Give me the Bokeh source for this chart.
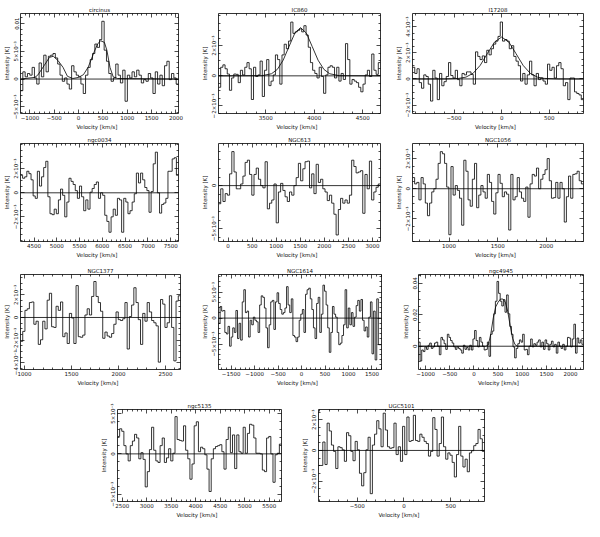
import numpy as np
from bokeh.plotting import figure
from bokeh.layouts import column, row
from bokeh.models import FixedTicker, LinearAxis, Span, Spacer
from bokeh.embed import file_html
from bokeh.resources import INLINE

FONT = "DejaVu Sans"

# ---------------- data (velocity in km/s, intensity in mK) ----------------
circinus_vrange = [-1194, 2052]
circinus_yrange = [-6.2, 11.8]
circinus_mK = [-2.1, 1.3, 0.4, 1.0, 0.7, 2.1, 0.2, -0.9, 2.9, 0.4, 4.3, 1.3, 4.1, 4.3, 4.6, 3.8, 2.7, 0.7,
               -0.4, 0.2, -0.9, -1.8, 2.4, 1.3, 0.7, 0.4, -0.9, -2.6, 0.7, 2.1, 3.5, 4.6, 6.3, 5.7, 7.1, 10.4,
               5.2, 3.2, 1.0, -0.4, 0.2, 2.7, 0.7, -0.7, 1.6, -4.0, 0.7, 0.2, 1.3, 0.4, 1.6, 0.7, -0.7, -0.1,
               -0.4, 1.0, 0.2, -2.6, 1.3, -0.9, 0.7, -1.2, 2.4, 3.2, -0.1, 1.0, 0.2, -0.9]
circinus_fit_v = [-1194, -900, -840, -710, -600, -520, -420, -320, -230, -120, 0, 100, 200, 320, 390, 450,
                  530, 580, 645, 710, 800, 2052]
circinus_fit_mK = [0.0, 0.3, 0.7, 2.4, 3.9, 4.1, 3.3, 2.1, 0.5, 0.1, 0.3, 0.8, 2.2, 4.9, 6.3, 6.9, 6.6, 5.2,
                   2.1, 0.4, 0.1, 0.0]
circinus_xticks = [-1000, -500, 0, 500, 1000, 1500, 2000]
circinus_yticks = [-5, 0, 5, 10]
circinus_ylabels = ["\u22125\u00d710\u207b\u00b3", "0", "5\u00d710\u207b\u00b3", "0.01"]

ic860_vrange = [3013, 4684]
ic860_yrange = [-2.5, 4.14]
ic860_mK = [-0.76, 0.57, 0.73, 0.47, 0.12, -0.96, -0.14, 0.12, 0.10, -0.45, 0.37, 0.06, 0.57, 0.88, 0.47,
            -1.57, 0.57, -0.04, 0.06, 0.98, -1.37, 0.37, 1.08, -0.65, -0.35, 0.06, 1.39, 1.08, -0.55, 1.39,
            2.10, 1.80, 2.31, 3.57, 2.82, 2.92, 3.02, 3.12, 2.92, 3.33, 2.71, 1.90, 0.88, 0.37, 0.16, -0.14,
            0.57, -0.04, -1.16, 0.06, 0.57, 0.67, 0.57, -0.14, 0.57, -0.35, 0.16, -0.24, 2.14, 1.08, -0.55,
            -0.24, -0.35, -0.45, -0.76, -1.06, -0.55, 0.06, 0.37, -0.04, 1.45, 0.37, 0.10, 0.88]
ic860_fit_v = [3013, 3460, 3560, 3620, 3680, 3740, 3800, 3860, 3920, 3980, 4040, 4100, 4160, 4260, 4684]
ic860_fit_mK = [0.0, 0.01, 0.14, 0.43, 1.04, 1.94, 2.83, 3.2, 2.83, 1.94, 1.04, 0.43, 0.14, 0.01, 0.0]
ic860_xticks = [3500, 4000, 4500]
ic860_yticks = [-2, 0, 2]
ic860_ylabels = ["\u22122\u00d710\u207b\u00b3", "0", "2\u00d710\u207b\u00b3"]

i17208_vrange = [-936, 859]
i17208_yrange = [-2.64, 5.0]
i17208_mK = [0.89, 0.42, 0.78, -0.28, -0.71, 0.31, 0.19, -0.40, -1.69, 0.66, 0.07, -1.58, 0.42, -0.52, -0.21,
             0.19, 1.25, 0.26, 0.07, 0.66, -0.05, -0.52, 0.42, 0.31, 0.54, 0.54, 0.35, -0.40, 2.07, 1.72, 1.48,
             1.76, 1.25, 2.19, 1.84, 2.31, 2.66, 2.89, 3.25, 4.35, 2.89, 3.01, 2.89, 2.31, 2.54, 1.72, 1.36,
             1.01, -0.16, 0.42, -0.40, 0.31, 1.36, 0.31, -0.52, 0.42, -0.05, 0.07, -0.16, -0.40, 1.13, 0.66,
             0.89, 0.07, 1.01, 1.25, 0.78, -0.52, -0.28, -1.58, 0.07, 0.07, -0.99, -1.11, -1.22, -1.58]
i17208_fit_v = [-936, -600, -450, -375, -300, -225, -150, -75, 0, 75, 150, 225, 300, 375, 450, 600, 859]
i17208_fit_mK = [0.0, 0.0, 0.04, 0.14, 0.43, 1.04, 1.94, 2.82, 3.2, 2.82, 1.94, 1.04, 0.43, 0.14, 0.04, 0.0, 0.0]
i17208_xticks = [-500, 0, 500]
i17208_yticks = [-2, 0, 2, 4]
i17208_ylabels = ["\u22122\u00d710\u207b\u00b3", "0", "2\u00d710\u207b\u00b3", "4\u00d710\u207b\u00b3"]

ngc0034_vrange = [4203, 7672]
ngc0034_yrange = [-4.05, 4.1]
ngc0034_mK = [1.46, 1.21, 1.33, 1.79, 1.59, 1.08, -0.26, -0.46, 1.79, 0.56, 1.33, 2.10, 2.62, -0.33, -1.74,
              -1.82, -1.36, -1.74, -0.59, 0.31, -0.21, -2.00, -0.77, 1.21, 0.95, 0.69, 0.18, -0.46, 0.56,
              -0.33, -1.49, -0.59, -1.36, 0.05, 0.36, 0.69, 0.90, -0.46, 0.00, -0.21, -1.87, -2.38, -3.28,
              -2.00, -1.36, -1.87, -0.46, -0.59, -3.28, -0.46, -0.77, -1.74, -1.49, -0.77, -0.08, 1.64, 0.82,
              1.64, 1.08, 0.44, 0.18, -1.62, 0.10, 2.41, 3.38, 0.00, -1.69, -0.97, -0.85, -0.46, 1.79, 1.79,
              2.82, 2.92, 1.46]
ngc0034_xticks = [4500, 5000, 5500, 6000, 6500, 7000, 7500]
ngc0034_yticks = [-2, 0, 2]
ngc0034_ylabels = ["\u22122\u00d710\u207b\u00b3", "0", "2\u00d710\u207b\u00b3"]

ngc613_vrange = [-199, 3166]
ngc613_yrange = [-6.5, 4.9]
ngc613_mK = [-2.11, -0.37, -1.85, -0.93, -1.11, 1.37, 3.96, 1.59, -0.37, -0.37, 0.19, 1.11, 2.70, 2.96, 1.30,
             -1.11, 1.30, 2.04, 0.74, 0.00, -0.26, 2.78, -2.70, -2.04, -1.67, 0.19, -4.33, -0.74, 0.26, -0.56,
             -1.30, -1.85, -0.74, -1.11, 0.00, 0.93, 2.59, 0.56, 1.96, 2.78, 2.85, -0.26, 1.37, -0.93, 2.48,
             0.37, 0.74, -0.37, -0.74, -1.74, -1.11, -2.04, -3.33, -5.74, -2.78, -1.48, -2.04, -1.67, -2.04,
             -1.11, 2.96, 2.22, 1.48, 1.59, 1.74, -3.22, 1.30, -0.37, 2.85, -1.67, -0.74, -0.19, 0.19]
ngc613_xticks = [0, 500, 1000, 1500, 2000, 2500, 3000]
ngc613_yticks = [-5, 0]
ngc613_ylabels = ["\u22125\u00d710\u207b\u00b3", "0"]

ngc1056_vrange = [623, 2384]
ngc1056_yrange = [-3.5, 3.0]
ngc1056_mK = [0.74, 0.32, 0.42, -0.74, 0.74, 0.32, -0.95, -1.79, -0.95, -0.21, 0.00, 0.63, 1.68, 2.46, 2.32,
              1.68, 0.11, -3.05, 1.47, -0.42, 0.21, -0.11, -0.63, -2.42, 1.89, 1.16, -0.74, -1.16, 0.63, 1.68,
              -1.26, -0.42, 0.21, -0.21, -0.63, 0.95, 0.42, -0.84, -1.68, -0.27, 0.95, 0.36, -0.53, -0.21,
              -0.36, -2.74, 0.95, -0.74, -0.53, 0.74, -0.21, -0.63, -0.84, 0.11, -1.89, 0.32, 0.95, 0.84, 1.37,
              0.00, 0.63, 0.95, 1.26, 2.00, 0.53, -0.63, -0.59, 0.42, -0.63, 0.42, 0.00, -2.21, -0.53, 0.84,
              -0.63, 0.95, 0.99, 1.16, 0.53, 0.32]
ngc1056_xticks = [1000, 1500, 2000]
ngc1056_yticks = [-2, 0, 2]
ngc1056_ylabels = ["\u22122\u00d710\u207b\u00b3", "0", "2\u00d710\u207b\u00b3"]

ngc1377_vrange = [957, 2660]
ngc1377_yrange = [-4.6, 3.8]
ngc1377_mK = [-2.11, -1.23, 0.63, 0.77, 1.32, 1.37, -0.60, -0.33, -2.38, -1.97, -0.33, -1.01, 1.53, 2.14,
              -0.82, -0.88, 0.99, 0.63, 1.37, -1.70, -1.37, -2.30, 0.36, -0.05, -2.30, 2.82, -1.70, -1.75,
              -1.56, 0.22, 0.77, 0.22, 1.86, 3.18, 1.86, 1.32, 0.55, -1.84, -1.29, -1.64, -1.75, -1.42, -0.60,
              0.49, -0.19, -0.27, -0.11, 1.32, -2.79, 0.08, 1.10, 2.63, 1.32, -0.19, -2.38, 0.36, -0.33, 1.32,
              0.49, -0.27, -0.47, -0.74, -3.95, 1.59, 1.18, -0.88, -0.47, 1.92, -0.88, -3.84, 1.45, 1.92]
ngc1377_xticks = [1000, 1500, 2000, 2500]
ngc1377_yticks = [-4, -2, 0, 2]
ngc1377_ylabels = ["\u22124\u00d710\u207b\u00b3", "\u22122\u00d710\u207b\u00b3", "0", "2\u00d710\u207b\u00b3"]

ngc1614_vrange = [-1770, 1703]
ngc1614_yrange = [-9.9, 8.4]
ngc1614_mK = [-1.00, 2.24, 1.35, 1.47, -2.76, -3.06, -1.59, -5.41, -3.65, -1.88, -2.76, 1.47, -3.94, -1.00,
              -4.24, 3.12, 5.47, 1.06, 1.35, -3.65, -0.41, -1.29, 0.18, -0.41, -0.71, -2.76, 2.53, 4.29, 4.00,
              1.94, -1.88, -5.71, -1.29, 3.12, 3.41, -2.18, 3.12, 4.88, 2.82, 1.65, 0.76, 1.06, 1.94, 6.06,
              2.53, 1.06, 3.71, -3.35, -3.65, -4.53, -3.65, -0.41, 0.76, 1.65, -2.76, 4.59, 5.47, 5.76, 3.71,
              1.65, -1.88, -3.94, 2.82, 4.00, -2.76, 0.76, 6.35, 5.18, 2.53, -1.88, -6.59, -2.76, 2.24, 0.76,
              0.18, -2.76, -5.12, -4.82, -3.35, -1.29, 5.47, -1.88, 1.94, -1.29, 1.06, -1.59, 0.18, 2.41, 3.41,
              1.35, 3.59, -0.41, -2.47, -1.71, -3.65, 0.18, 3.12, -6.88, 1.35, -8.06, 3.71, -5.12, -5.12]
ngc1614_xticks = [-1500, -1000, -500, 0, 500, 1000, 1500]
ngc1614_yticks = [-5, 0, 5]
ngc1614_ylabels = ["\u22125\u00d710\u207b\u00b3", "0", "5\u00d710\u207b\u00b3"]

ngc4945_vrange = [-1147, 2267]
ngc4945_yrange = [-14.8, 45.6]
ngc4945_mK = [2.6, -9.4, -2.4, -3.4, -0.4, -2.0, 0.6, 2.0, -1.4, -0.4, 2.0, 2.6, 0.0, -5.4, 5.6, 4.0, 1.6,
              -2.0, 7.6, 5.6, 3.6, 2.0, -0.4, -2.0, -0.4, -1.4, -2.4, -4.4, 0.6, -2.0, -0.8, -2.4, 0.6, -2.4,
              4.6, 10.0, 3.6, -0.4, 5.6, 2.6, 0.0, -2.4, -2.0, 2.6, -6.4, 7.6, 9.6, 20.6, 28.6, 41.2, 33.6,
              28.6, 25.6, 29.6, 21.6, 32.6, 20.6, 12.6, 7.6, -0.4, -7.4, -1.4, 1.6, 4.0, 2.6, 7.6, -2.4, -2.0,
              -5.4, 0.0, 4.6, -0.4, 1.6, 0.6, 2.6, 4.0, -0.4, 2.6, -2.0, 4.0, 1.6, -2.4, 1.2, 3.2, -0.4, 1.2,
              -4.4, 2.6, 0.0, -1.4, 1.2, -2.4, 0.0, 5.6, 5.2, -0.4, 4.6, 14.0, -4.4, 5.2, 2.0, 4.0, 1.2]
ngc4945_fit_v = [-1147, 250, 300, 350, 400, 450, 500, 550, 600, 650, 700, 750, 800, 850, 900, 2267]
ngc4945_fit_mK = [0.0, 0.0, 1.0, 8.0, 18.0, 25.0, 28.0, 30.0, 30.0, 28.0, 22.0, 13.0, 5.0, 1.0, 0.0, 0.0]
ngc4945_xticks = [-1000, -500, 0, 500, 1000, 1500, 2000]
ngc4945_yticks = [0, 20, 40]
ngc4945_ylabels = ["0", "0.02", "0.04"]

ngc5135_vrange = [2402, 5748]
ngc5135_yrange = [-5.9, 5.5]
ngc5135_mK = [2.16, 3.11, 2.80, 1.02, 0.00, -0.87, 1.02, 1.59, 2.42, 1.97, -0.61, 0.15, -0.68, -4.09, -2.20,
              0.53, 3.30, 0.45, -0.87, -1.06, 1.02, 1.97, -1.06, -0.49, 0.64, -0.87, 0.08, 4.62, 1.78, 1.67,
              1.59, 3.48, 0.45, -0.61, -3.14, -1.25, 3.48, 3.98, 0.27, 0.83, 0.64, -0.11, -1.89, -4.66, -0.61,
              0.64, 0.91, 1.02, 1.14, 0.27, -1.89, 1.78, 3.30, 0.15, 2.35, -1.82, 2.35, 0.27, 0.08, 3.30, 0.08,
              2.54, 3.67, 3.56, 1.97, 0.08, 0.08, 0.00, -2.01, -2.20, 1.97, 2.16, 0.00, -3.52, -0.11, 0.08, 1.21]
ngc5135_xticks = [2500, 3000, 3500, 4000, 4500, 5000, 5500]
ngc5135_yticks = [-5, 0, 5]
ngc5135_ylabels = ["\u22125\u00d710\u207b\u00b3", "0", "5\u00d710\u207b\u00b3"]

ugc5101_vrange = [-914, 862]
ugc5101_yrange = [-3.33, 2.67]
ugc5101_mK = [-0.98, -0.98, 0.55, -0.92, 1.78, 1.27, 0.35, -0.06, -1.18, 0.24, 0.18, 0.04, -0.71, 1.16, 0.96,
              -0.06, -0.67, 0.59, 0.04, -1.49, -2.31, -1.45, 0.04, 0.86, -2.82, 0.35, 1.06, 1.94, 1.41, 0.24,
              2.43, 1.33, 0.24, 0.14, 0.18, 1.78, -0.27, 0.24, -0.71, 1.57, -0.27, 2.18, 0.59, 0.65, 2.29, 0.65,
              0.59, 1.06, 0.86, 0.59, 0.45, -0.37, -0.06, 2.14, 1.37, -0.37, 0.45, 2.18, 0.24, -0.57, -0.16,
              -0.31, -0.78, -1.73, -0.27, 1.57, -0.37, -1.08, -0.57, -1.39, -0.16, -0.02, 0.31, 0.45, 1.37,
              0.76, -0.06]
ugc5101_xticks = [-500, 0, 500]
ugc5101_yticks = [-2, 0, 2]
ugc5101_ylabels = ["\u22122\u00d710\u207b\u00b3", "0", "2\u00d710\u207b\u00b3"]

TXT = "5.5px"
XLABEL = "Velocity    [km/s]"


def tick_style(ax):
    ax.major_tick_in = 4
    ax.major_tick_out = 0
    ax.minor_tick_in = 2
    ax.minor_tick_out = 0
    ax.axis_line_color = None
    ax.major_tick_line_color = "black"
    ax.minor_tick_line_color = "black"
    ax.major_tick_line_width = 0.7
    ax.minor_tick_line_width = 0.7


def main_axis(ax, major, minor):
    ax.ticker = FixedTicker(ticks=list(major), minor_ticks=list(minor))
    tick_style(ax)
    ax.major_label_standoff = 1
    ax.major_label_text_font = FONT
    ax.major_label_text_font_size = TXT
    ax.major_label_text_color = "#111111"
    ax.axis_label_text_font = FONT
    ax.axis_label_text_font_size = TXT
    ax.axis_label_text_font_style = "normal"
    ax.axis_label_text_color = "#111111"
    ax.axis_label_standoff = 1


def mirror_axis(ax, ticks, length):
    # mirrored box ticks only (no labels)
    ax.ticker = FixedTicker(ticks=[], minor_ticks=list(ticks))
    tick_style(ax)
    ax.minor_tick_in = length
    ax.major_label_standoff = 0


def panel(title, vrange, yrange, mK, xticks, yticks, ylabels, yminor_step, w, h, bl, br, bt, bb,
          fit_v=None, fit_mK=None):
    p = figure(width=w, height=h, x_range=(vrange[0], vrange[1]), y_range=(yrange[0], yrange[1]),
               output_backend="svg", toolbar_location=None,
               min_border_left=bl, min_border_right=br, min_border_top=bt, min_border_bottom=bb)
    p.title.text = title
    p.title.align = "center"
    p.title.text_font = FONT
    p.title.text_font_size = TXT
    p.title.text_font_style = "normal"
    p.title.text_color = "#111111"
    p.title.standoff = 2
    p.outline_line_color = "black"
    p.outline_line_width = 0.8
    p.xgrid.visible = False
    p.ygrid.visible = False

    xminor = [t for t in np.arange(np.ceil(vrange[0] / 100) * 100, vrange[1], 100) if t not in xticks]
    yminor = [t for t in np.arange(np.ceil(yrange[0] / yminor_step) * yminor_step, yrange[1], yminor_step)
              if t not in yticks]

    xa = p.xaxis[0]
    main_axis(xa, xticks, xminor)
    xa.axis_label = XLABEL
    ya = p.yaxis[0]
    main_axis(ya, yticks, yminor)
    ya.major_label_overrides = {t: s for t, s in zip(yticks, ylabels)}
    ya.major_label_orientation = "vertical"
    ya.axis_label = "Intensity [K]"

    for ticks, length, side in ((xticks, 4, "above"), (xminor, 2, "above"),
                                (yticks, 4, "right"), (yminor, 2, "right")):
        ax = LinearAxis()
        mirror_axis(ax, ticks, length)
        p.add_layout(ax, side)

    p.add_layout(Span(location=0, dimension="width", line_color="black", line_width=0.8))

    edges = np.linspace(vrange[0], vrange[1], len(mK) + 1)
    p.step(edges, list(mK) + [mK[-1]], mode="after", line_color="black", line_width=0.8)
    if fit_v is not None:
        p.line(fit_v, fit_mK, line_color="black", line_width=0.8)
    return p


r1 = row(
    panel("circinus", circinus_vrange, circinus_yrange, circinus_mK, circinus_xticks, circinus_yticks,
          circinus_ylabels, 1, 198, 132, 15, 20, 13, 14, circinus_fit_v, circinus_fit_mK),
    panel("IC860", ic860_vrange, ic860_yrange, ic860_mK, ic860_xticks, ic860_yticks, ic860_ylabels, 0.5,
          194, 132, 18, 12, 13, 14, ic860_fit_v, ic860_fit_mK),
    panel("I17208", i17208_vrange, i17208_yrange, i17208_mK, i17208_xticks, i17208_yticks, i17208_ylabels,
          0.5, 192, 132, 18, 1, 13, 14, i17208_fit_v, i17208_fit_mK),
    spacing=0)

r2 = row(
    panel("ngc0034", ngc0034_vrange, ngc0034_yrange, ngc0034_mK, ngc0034_xticks, ngc0034_yticks,
          ngc0034_ylabels, 0.5, 198, 128, 15, 20, 11, 14),
    panel("NGC613", ngc613_vrange, ngc613_yrange, ngc613_mK, ngc613_xticks, ngc613_yticks, ngc613_ylabels,
          1, 194, 128, 18, 12, 11, 14),
    panel("NGC1056", ngc1056_vrange, ngc1056_yrange, ngc1056_mK, ngc1056_xticks, ngc1056_yticks,
          ngc1056_ylabels, 0.5, 192, 128, 18, 1, 11, 14),
    spacing=0)

r3 = row(
    panel("NGC1377", ngc1377_vrange, ngc1377_yrange, ngc1377_mK, ngc1377_xticks, ngc1377_yticks,
          ngc1377_ylabels, 0.5, 198, 128, 15, 18, 14, 14),
    panel("NGC1614", ngc1614_vrange, ngc1614_yrange, ngc1614_mK, ngc1614_xticks, ngc1614_yticks,
          ngc1614_ylabels, 1, 201, 128, 18, 18, 14, 14),
    panel("ngc4945", ngc4945_vrange, ngc4945_yrange, ngc4945_mK, ngc4945_xticks, ngc4945_yticks,
          ngc4945_ylabels, 5, 185, 128, 18, 1, 14, 14, ngc4945_fit_v, ngc4945_fit_mK),
    spacing=0)

r4 = row(
    Spacer(width=97, height=132),
    panel("ngc5135", ngc5135_vrange, ngc5135_yrange, ngc5135_mK, ngc5135_xticks, ngc5135_yticks,
          ngc5135_ylabels, 1, 201, 132, 18, 17, 21, 14),
    panel("UGC5101", ugc5101_vrange, ugc5101_yrange, ugc5101_mK, ugc5101_xticks, ugc5101_yticks,
          ugc5101_ylabels, 0.5, 187, 132, 18, 1, 21, 14),
    spacing=0)

layout = column(r1, r2, r3, r4, spacing=0)

open("out.html", "w").write(file_html(layout, INLINE))
